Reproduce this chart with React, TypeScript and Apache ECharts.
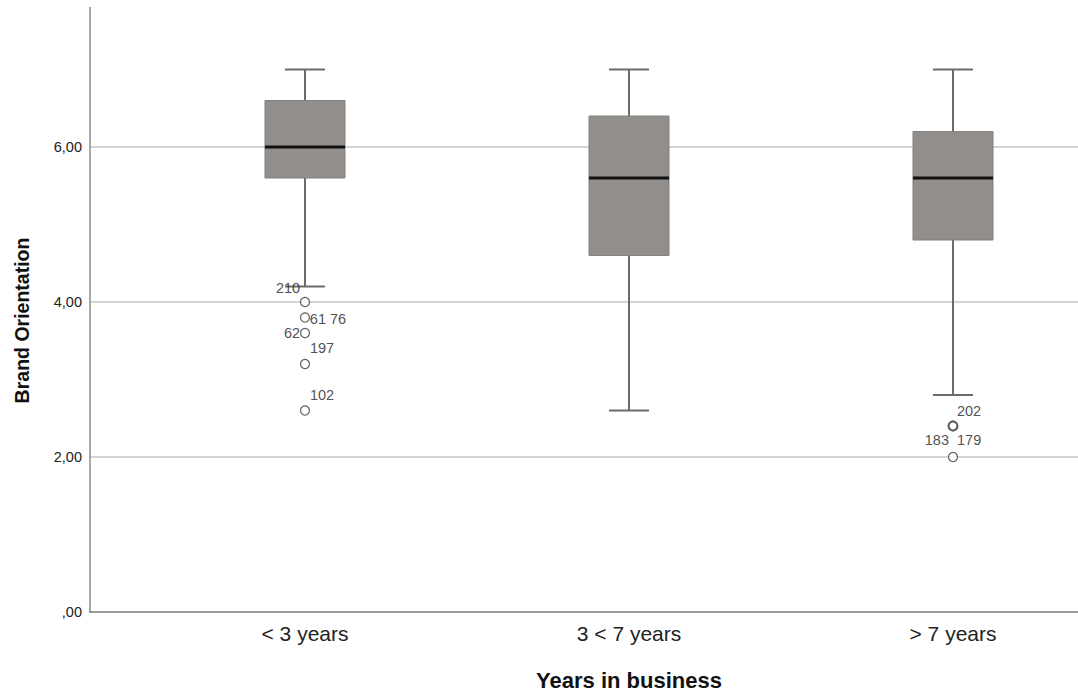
import React, { useEffect, useRef } from "react";
import * as echarts from "echarts";

const categories = ["< 3 years", "3 < 7 years", "> 7 years"];
// [min whisker, Q1, median, Q3, max whisker]
const boxStats = [
  [4.2, 5.6, 6.0, 6.6, 7.0],
  [2.6, 4.6, 5.6, 6.4, 7.0],
  [2.8, 4.8, 5.6, 6.2, 7.0],
];
const outlierCats = [0, 0, 0, 0, 0, 2, 2];
const outlierValues = [4.0, 3.8, 3.6, 3.2, 2.6, 2.4, 2.0];
const outlierLabels = ["210", "61 76", "62", "197", "102", "202", "183  179"];
const outlierMulti = [false, false, false, false, false, true, false];
const labelOffsets: [number, number][] = [
  [-17, -14],
  [23, 1],
  [-13, 0],
  [17, -16],
  [17, -16],
  [16, -15],
  [0, -17],
];
const yTicks = [0, 2, 4, 6];
const yMax = 7.8;

const FONT = "'Liberation Sans', Arial, sans-serif";

export default function App() {
  const ref = useRef<HTMLDivElement>(null);
  useEffect(() => {
    document.body.style.margin = "0";
    const chart = echarts.init(ref.current!, null, { renderer: "svg" });
    const boxData = boxStats.map((s, i) => [i, ...s]);
    const outData = outlierValues.map((v, i) => ({
      value: [outlierCats[i], v],
      itemStyle: { borderWidth: outlierMulti[i] ? 2.2 : 1.2 },
      label: {
        show: true,
        formatter: outlierLabels[i],
        position: "inside",
        offset: labelOffsets[i],
      },
    }));
    chart.setOption({
      animation: false,
      textStyle: { fontFamily: FONT },
      grid: [
        { left: 90, right: 0, top: 7.5, bottom: 80, outerBoundsMode: "none" },
        { left: 305, right: 125, top: 7.5, bottom: 80, outerBoundsMode: "none" },
        { left: 90, right: 0, top: 29, bottom: 80, outerBoundsMode: "none" },
      ],
      xAxis: [
        {
          gridIndex: 0,
          type: "value",
          min: 0,
          max: 1,
          axisLine: { show: true, lineStyle: { color: "#7a7a7a", width: 1.5 } },
          axisTick: { show: false },
          axisLabel: { show: false },
          splitLine: { show: false },
        },
        {
          gridIndex: 1,
          type: "category",
          data: categories,
          boundaryGap: false,
          axisLine: { show: false },
          axisTick: { show: false },
          axisLabel: { fontSize: 21, color: "#222", margin: 11, fontFamily: FONT },
          name: "Years in business",
          nameLocation: "middle",
          nameGap: 57,
          nameTextStyle: { fontSize: 22, fontWeight: "bold", color: "#111", fontFamily: FONT },
        },
        {
          gridIndex: 2,
          type: "value",
          show: false,
        },
      ],
      yAxis: [
        {
          gridIndex: 0,
          type: "value",
          min: 0,
          max: yMax,
          interval: 2,
          axisLine: { show: true, lineStyle: { color: "#8a8a8a", width: 1.5 } },
          axisTick: { show: false },
          axisLabel: {
            fontSize: 14.5,
            color: "#222",
            margin: 8,
            fontFamily: FONT,
            formatter: (v: number) =>
              yTicks.includes(v) ? (v === 0 ? ",00" : v.toFixed(2).replace(".", ",")) : "",
          },
          splitLine: {
            show: true,
            lineStyle: {
              color: ["transparent", "#c4c4c4", "#c4c4c4", "#c4c4c4", "transparent"],
              width: 1.5,
            },
          },
        },
        {
          gridIndex: 1,
          type: "value",
          min: 0,
          max: yMax,
          show: false,
        },
        {
          gridIndex: 2,
          type: "value",
          axisLine: { show: false },
          axisTick: { show: false },
          axisLabel: { show: false },
          splitLine: { show: false },
          name: "Brand Orientation",
          nameLocation: "middle",
          nameGap: 58,
          nameTextStyle: { fontSize: 19.5, fontWeight: "bold", color: "#111", fontFamily: FONT },
        },
      ],
      series: [
        {
          type: "custom",
          xAxisIndex: 1,
          yAxisIndex: 1,
          data: boxData,
          encode: { x: 0, y: [1, 2, 3, 4, 5] },
          renderItem: (params: any, api: any) => {
            const idx = api.value(0);
            const lo = api.coord([idx, api.value(1)]);
            const q1 = api.coord([idx, api.value(2)]);
            const med = api.coord([idx, api.value(3)]);
            const q3 = api.coord([idx, api.value(4)]);
            const hi = api.coord([idx, api.value(5)]);
            const band = api.size([1, 0])[0];
            const bw = band * 0.247;
            const cw = bw / 2;
            const x = med[0];
            const wStyle = { stroke: "#6b6b6b", lineWidth: 2 };
            return {
              type: "group",
              children: [
                { type: "line", shape: { x1: x, y1: hi[1], x2: x, y2: q3[1] }, style: wStyle },
                { type: "line", shape: { x1: x, y1: q1[1], x2: x, y2: lo[1] }, style: wStyle },
                { type: "line", shape: { x1: x - cw / 2, y1: hi[1], x2: x + cw / 2, y2: hi[1] }, style: wStyle },
                { type: "line", shape: { x1: x - cw / 2, y1: lo[1], x2: x + cw / 2, y2: lo[1] }, style: wStyle },
                {
                  type: "rect",
                  shape: { x: x - bw / 2, y: q3[1], width: bw, height: q1[1] - q3[1] },
                  style: { fill: "#928e8b", stroke: "#85817e", lineWidth: 1 },
                },
                {
                  type: "line",
                  shape: { x1: x - bw / 2, y1: med[1], x2: x + bw / 2, y2: med[1] },
                  style: { stroke: "#111", lineWidth: 3 },
                },
              ],
            };
          },
        },
        {
          type: "scatter",
          xAxisIndex: 1,
          yAxisIndex: 1,
          symbol: "circle",
          symbolSize: 9,
          itemStyle: { color: "#fff", borderColor: "#3a3a3a", borderWidth: 1.2 },
          label: { fontSize: 14.5, color: "#222", fontFamily: FONT },
          data: outData,
          z: 5,
        },
      ],
    });
    return () => chart.dispose();
  }, []);
  return <div ref={ref} style={{ width: 1078, height: 692 }} />;
}
